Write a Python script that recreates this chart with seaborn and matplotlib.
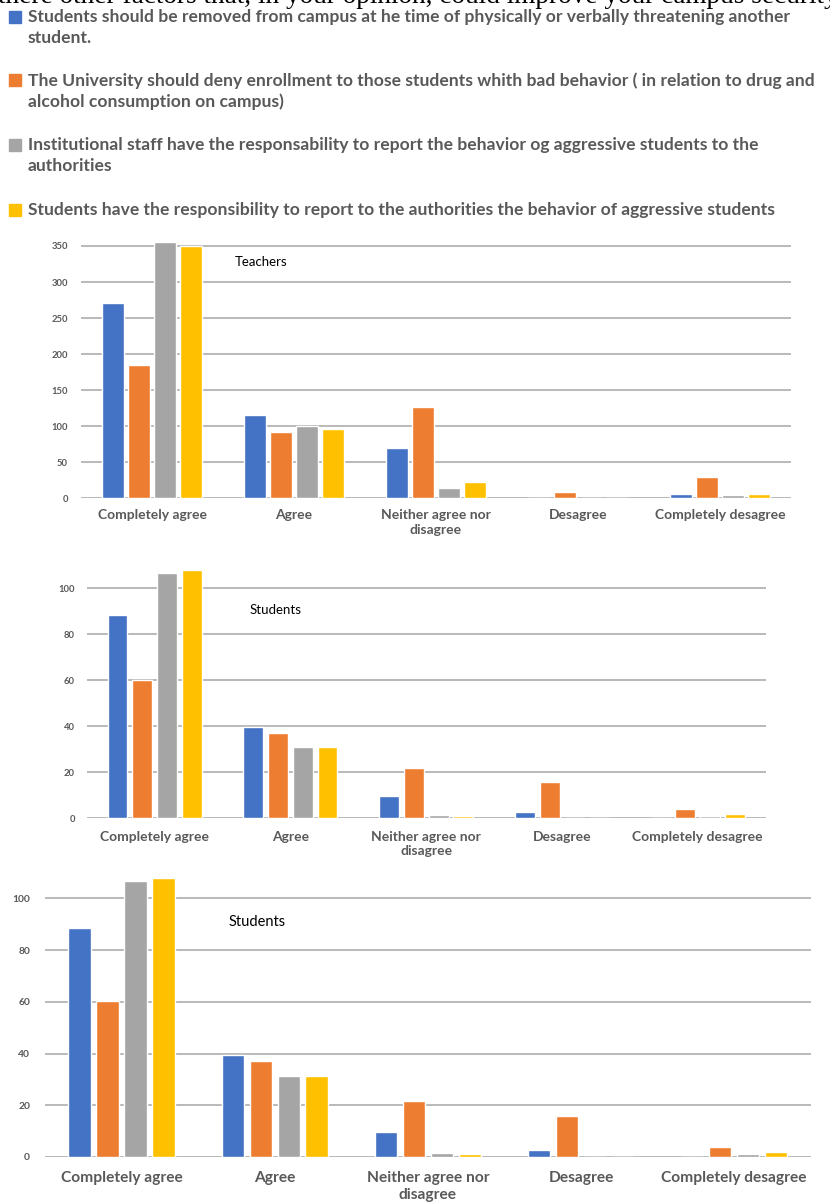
import matplotlib
matplotlib.use("Agg")
import matplotlib.pyplot as plt
from matplotlib.patches import Rectangle
import pandas as pd
import seaborn as sns

# ---- data -------------------------------------------------------------
responses = ["Completely agree", "Agree", "Neither agree nor\ndisagree",
             "Desagree", "Completely desagree"]

statements = [
    "Students should be removed from campus at he time of physically or verbally threatening another\nstudent.",
    "The University should deny enrollment to those students whith bad behavior ( in relation to drug and\nalcohol consumption on campus)",
    "Institutional staff have the responsability to report the behavior og aggressive students to the\nauthorities",
    "Students have the responsibility to report to the authorities the behavior of aggressive students",
]
series_names = ["removed", "deny", "staff", "students"]
colors = ["#4472C4", "#ED7D31", "#A5A5A5", "#FFC000"]

# Teachers
teachers_removed = [271, 115.5, 70, 0, 6]
teachers_deny = [185, 92, 127, 9, 29]
teachers_staff = [356, 100, 14, 0, 4]
teachers_students = [350, 96, 22, 0, 6]

# Students
students_removed = [88.5, 39.5, 9.7, 2.7, 0]
students_deny = [60.3, 37.3, 21.8, 15.8, 4.0]
students_staff = [106.7, 31.2, 1.4, 0, 1.0]
students_students = [108, 31.2, 1.0, 0, 1.9]

teachers_ticks = [0, 50, 100, 150, 200, 250, 300, 350]
students_ticks = [0, 20, 40, 60, 80, 100]

TEXT = "#595959"
GRID = "#A6A6A6"
W, H = 830, 1202

sns.set_theme(style="white")
plt.rcParams["font.family"] = ["Lato", "DejaVu Sans"]

fig = plt.figure(figsize=(W / 100, H / 100), dpi=100)


def fx(x):
    return x / W


def fy(y):
    return 1 - y / H


def long_frame(values):
    rows = []
    for name, vals in zip(series_names, values):
        for resp, v in zip(responses, vals):
            rows.append({"response": resp, "series": name, "count": v})
    return pd.DataFrame(rows)


def panel(left, right, zero_y, px_per_unit, ymax, ticks, values, title,
          title_xy, ylab_pad, xlab_pad, xsize, ysize, gap):
    top = zero_y - ymax * px_per_unit
    ax = fig.add_axes([fx(left), fy(zero_y), (right - left) / W, (zero_y - top) / H])
    df = long_frame(values)
    sns.barplot(data=df, x="response", y="count", hue="series",
                hue_order=series_names, order=responses,
                palette=colors, width=0.73, gap=gap, errorbar=None,
                saturation=1, legend=False, ax=ax, zorder=3)
    for p in ax.patches:
        p.set_clip_on(False)
    ax.set_ylim(0, ymax)
    ax.set_xlim(-0.5, len(responses) - 0.5)
    ax.set_yticks(ticks)
    ax.set_yticklabels([str(t) for t in ticks])
    ax.set_xlabel("")
    ax.set_ylabel("")
    for s in ax.spines.values():
        s.set_visible(False)
    ax.yaxis.grid(True, color=GRID, linewidth=1.1)
    ax.set_axisbelow(True)
    ax.tick_params(axis="y", length=0, pad=ylab_pad, labelsize=ysize,
                   labelcolor=TEXT)
    ax.tick_params(axis="x", length=0, pad=xlab_pad, labelsize=xsize,
                   labelcolor=TEXT)
    for lab in ax.get_yticklabels() + ax.get_xticklabels():
        lab.set_fontweight("bold")
    for lab in ax.get_xticklabels():
        lab.set_linespacing(1.25)
    fig.text(fx(title_xy[0]), fy(title_xy[1]), title, fontsize=title_xy[2],
             color="black", va="center", ha="left")
    return ax


# ---- partially visible heading ----------------------------------------
fig.text(fx(-2), fy(3), "there other factors that, in your opinion, could improve your campus security",
         family=["Liberation Serif", "DejaVu Serif"], fontsize=19.6,
         color="black", va="baseline", ha="left")

# ---- legend block -------------------------------------------------------
legend_rows = [17, 80, 145, 210]
for c, txt, yc in zip(colors, statements, legend_rows):
    fig.patches.append(Rectangle((fx(9), fy(yc + 6)), 12 / W, 12 / H,
                                 transform=fig.transFigure, color=c))
    fig.text(fx(28), fy(yc - 8), txt, fontsize=12.6, fontweight="bold",
             color=TEXT, va="top", ha="left", linespacing=1.35)

# ---- panels ------------------------------------------------------------
panel(81, 791, 498.3, 0.721, 360, teachers_ticks,
      [teachers_removed, teachers_deny, teachers_staff, teachers_students],
      "Teachers", (235, 262, 9.5), 9.4, 8, 10.0, 6.8, 0.15)

panel(86.7, 765.7, 818.3, 2.3, 110, students_ticks,
      [students_removed, students_deny, students_staff, students_students],
      "Students", (250, 610, 9.5), 8.4, 9, 10.0, 6.8, 0.2)

panel(45, 810.7, 1157, 2.587, 110, students_ticks,
      [students_removed, students_deny, students_staff, students_students],
      "Students", (229, 922, 10.5), 10.8, 10, 11.2, 7.4, 0.2)

fig.savefig("out.png", dpi=100)
